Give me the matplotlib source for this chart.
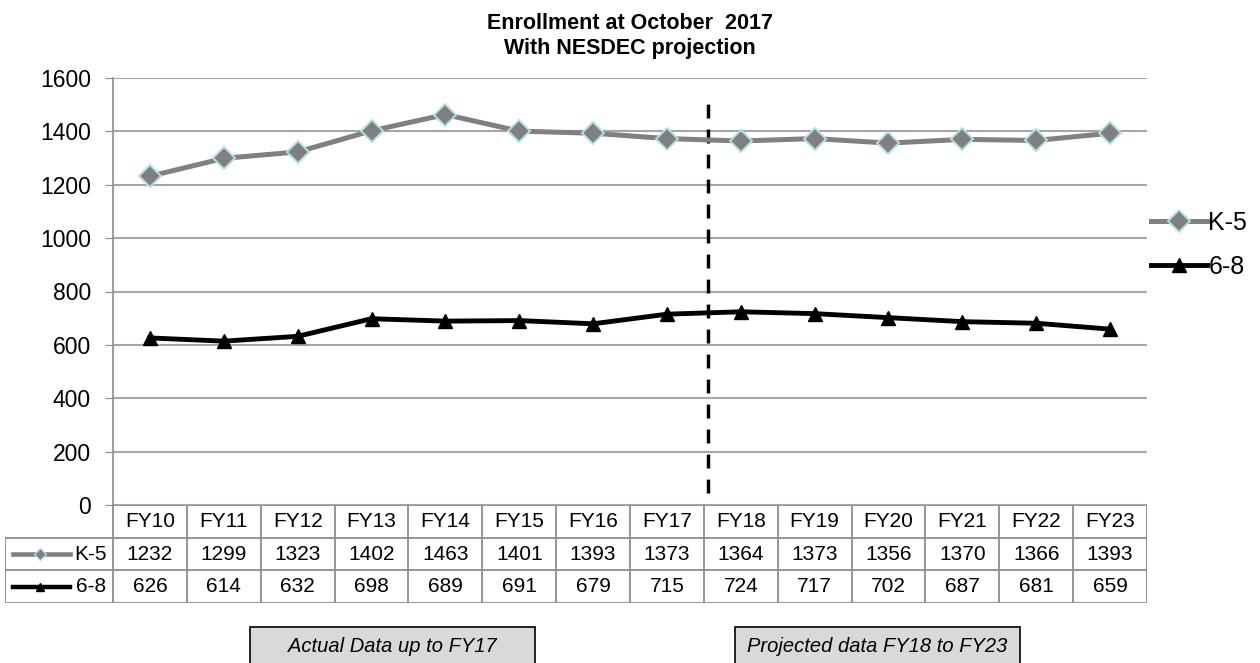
import matplotlib
matplotlib.use('Agg')
import matplotlib.pyplot as plt
from matplotlib.patches import Rectangle
from matplotlib.lines import Line2D

plt.rcParams['font.family'] = ['Liberation Sans', 'DejaVu Sans']

# data
years = ['FY10', 'FY11', 'FY12', 'FY13', 'FY14', 'FY15', 'FY16',
         'FY17', 'FY18', 'FY19', 'FY20', 'FY21', 'FY22', 'FY23']
k5 = [1232, 1299, 1323, 1402, 1463, 1401, 1393, 1373, 1364, 1373, 1356, 1370, 1366, 1393]
g68 = [626, 614, 632, 698, 689, 691, 679, 715, 724, 717, 702, 687, 681, 659]
yticks = [0, 200, 400, 600, 800, 1000, 1200, 1400, 1600]

W, H = 1260, 663
fs = 15
grey_line = '#8c8c8c'
grid_col = '#a6a6a6'

fig = plt.figure(figsize=(W / 100, H / 100), dpi=100)

def px(x0, y0, x1, y1):
    # pixel box (top-left origin) -> figure fraction rect
    return [x0 / W, 1 - y1 / H, (x1 - x0) / W, (y1 - y0) / H]

ax = fig.add_axes(px(113, 78, 1147, 505))
x = list(range(len(years)))

ax.plot(x, k5, color='#808080', lw=3.6, marker='D', ms=11.5,
        mfc='#808080', mec='#b4dfe6', mew=1.4, label='K-5', zorder=3)
ax.plot(x, g68, color='black', lw=3.5, marker='^', ms=10.5,
        mfc='black', mec='black', label='6-8', zorder=3)

ax.set_xlim(-0.5, len(years) - 0.5)
ax.set_ylim(0, 1600)
ax.set_yticks(yticks)
ax.tick_params(axis='y', labelsize=16.5, length=6, color=grey_line, pad=10)
ax.set_xticks([])
ax.yaxis.grid(True, color=grid_col, lw=1.5)
ax.set_axisbelow(True)
for s in ['top', 'right', 'bottom']:
    ax.spines[s].set_visible(False)
ax.spines['left'].set_color(grey_line)
ax.spines['left'].set_linewidth(1.2)

# divider between actual and projected data
ax.vlines(7.55, 45, 1530, colors='black', linestyles=(0, (4, 3.2)), lw=2.5)

ax.set_title('Enrollment at October  2017\nWith NESDEC projection',
             fontsize=15.5, fontweight='bold', pad=17, linespacing=1.28)

ax.legend(loc='center left', bbox_to_anchor=(0.994, 0.61), frameon=False,
          fontsize=18, handlelength=2.25, handletextpad=0.05, labelspacing=0.8,
          borderaxespad=0)

# data table under the plot
lab_w = 108 / 73.86
tax = fig.add_axes(px(5, 505, 1147, 603))
tax.set_xlim(-0.5 - lab_w, len(years) - 0.5)
tax.set_ylim(0, 3)
tax.axis('off')
edge = '#8c8c8c'
left = -0.5 - lab_w
right = len(years) - 0.5
tax.hlines([0, 1, 2], left, right, colors=edge, lw=1.3)
tax.hlines(3, -0.5, right, colors=edge, lw=1.3)
tax.vlines([left], 0, 2, colors=edge, lw=1.3)
tax.vlines([i - 0.5 for i in range(len(years) + 1)], 0, 3, colors=edge, lw=1.3)
for i, yr in enumerate(years):
    tax.text(i, 2.5, yr, ha='center', va='center', fontsize=fs)
    tax.text(i, 1.5, str(k5[i]), ha='center', va='center', fontsize=fs)
    tax.text(i, 0.5, str(g68[i]), ha='center', va='center', fontsize=fs)
for row, lab in [(1.5, 'K-5'), (0.5, '6-8')]:
    tax.text(-0.59, row, lab, ha='right', va='center', fontsize=fs)
tax.add_line(Line2D([left + 0.11, left + 0.88], [1.5, 1.5], color='#808080', lw=3.3))
tax.add_line(Line2D([left + 0.48], [1.5], marker='D', ms=6, color='#808080',
                    mec='#b4dfe6', mew=1.0))
tax.add_line(Line2D([left + 0.11, left + 0.88], [0.5, 0.5], color='black', lw=3.2))
tax.add_line(Line2D([left + 0.48], [0.5], marker='^', ms=6, color='black'))

# annotation boxes
for (x0, x1, txt) in [(250, 535, 'Actual Data up to FY17'),
                      (735, 1020, 'Projected data FY18 to FY23')]:
    r = px(x0, 627, x1, 670)
    fig.add_artist(Rectangle((r[0], r[1]), r[2], r[3], transform=fig.transFigure,
                             facecolor='#d9d9d9', edgecolor='black', lw=1.2))
    fig.text((x0 + x1) / 2 / W, 1 - 647 / H, txt, ha='center', va='center',
             fontsize=14.5, style='italic')

fig.savefig('out.png', dpi=100)
